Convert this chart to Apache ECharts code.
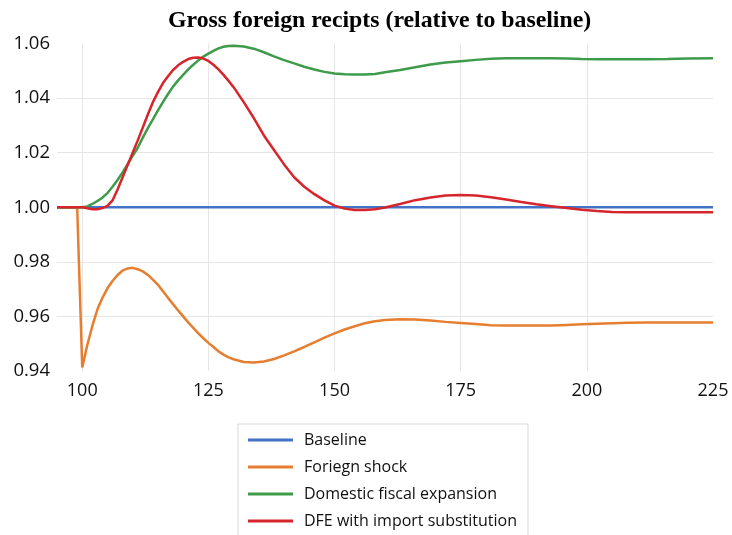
<!DOCTYPE html>
<html>
<head>
<meta charset="utf-8">
<script src="https://cdn.jsdelivr.net/npm/echarts@6/dist/echarts.min.js"></script>
<style>
html,body{margin:0;padding:0;background:#fff;}
#chart{width:732px;height:535px;}
</style>
</head>
<body>
<div id="chart"></div>
<script>
var titleText = 'Gross foreign recipts (relative to baseline)';
var seriesNames = ['Baseline', 'Foriegn shock', 'Domestic fiscal expansion', 'DFE with import substitution'];
var xTicks = [100, 125, 150, 175, 200, 225];
var yTicks = [0.94, 0.96, 0.98, 1.00, 1.02, 1.04, 1.06];

var xs = [95,96,97,98,99,100,101,102,103,104,105,106,107,108,109,110,111,112,113,114,115,116,117,118,119,120,121,122,123,124,125,126,127,128,129,130,
  132,134,136,138,140,142,144,146,148,150,152,154,156,158,160,
  163,166,169,172,175,178,181,184,187,190,193,196,199,202,205,208,
  212,216,220,225];

var baselineX = [95, 225];
var baselineY = [1.0, 1.0];

var foreignShock = [1,1,1,1,1,
  0.9413,0.9495,0.9565,0.9625,0.9668,0.9703,0.9730,0.9752,0.9768,0.9776,0.9778,
  0.9773,0.9765,0.9752,0.9735,0.9716,0.9692,0.9668,0.9645,0.9622,0.9600,
  0.9578,0.9558,0.9538,0.9520,0.9503,0.9488,0.9472,0.9460,0.9450,0.9443,
  0.9433,0.9431,0.9435,0.9444,0.9457,0.9472,0.9488,0.9505,0.9522,0.9538,0.9552,0.9564,0.9575,0.9582,0.9587,
  0.9590,0.9589,0.9585,0.9580,0.9576,0.9572,0.9568,0.9567,0.9567,0.9567,0.9567,0.9569,0.9571,0.9573,0.9575,0.9577,
  0.9578,0.9578,0.9578,0.9578];

var fiscalExpansion = [1,1,1,1,1,
  1.0000,1.0003,1.0012,1.0023,1.0035,1.0052,1.0075,1.0100,1.0128,1.0158,1.0188,
  1.0218,1.0255,1.0290,1.0322,1.0355,1.0385,1.0415,1.0442,1.0465,1.0485,
  1.0505,1.0522,1.0538,1.0552,1.0563,1.0573,1.0582,1.0588,1.0591,1.0592,
  1.0589,1.0581,1.0568,1.0553,1.0539,1.0527,1.0515,1.0505,1.0496,1.0490,1.0487,1.0486,1.0486,1.0488,1.0495,
  1.0503,1.0513,1.0523,1.0530,1.0535,1.0540,1.0544,1.0546,1.0546,1.0546,1.0546,1.0545,1.0543,1.0542,1.0542,1.0542,
  1.0542,1.0543,1.0545,1.0546];

var dfeImportSub = [1,1,1,1,1,
  1.0000,0.9996,0.9993,0.9993,0.9997,1.0005,1.0025,1.0065,1.0110,1.0155,1.0200,
  1.0245,1.0292,1.0340,1.0385,1.0422,1.0455,1.0480,1.0503,1.0520,1.0533,
  1.0543,1.0548,1.0549,1.0545,1.0536,1.0522,1.0505,1.0485,1.0463,1.0440,
  1.0385,1.0327,1.0263,1.0210,1.0157,1.0110,1.0075,1.0048,1.0025,1.0006,0.9995,0.9990,0.9990,0.9993,0.9999,
  1.0012,1.0026,1.0036,1.0043,1.0045,1.0043,1.0037,1.0028,1.0019,1.0011,1.0004,0.9997,0.9991,0.9986,0.9983,0.9982,
  0.9982,0.9982,0.9982,0.9982];

var colors = ['#4472C4', '#E67E30', '#3E9B4A', '#D6252B'];

function pairs(xv, yv) { return xv.map(function (x, i) { return [x, yv[i]]; }); }

var chart = echarts.init(document.getElementById('chart'), null, {renderer: 'canvas'});
var labelFont = 'Open Sans';
function lineSeries(name, data, color) {
  return {
    name: name, type: 'line', data: data, showSymbol: false, symbol: 'none',
    lineStyle: {color: color, width: 2.5}, itemStyle: {color: color},
    emphasis: {disabled: true}, animation: false
  };
}
chart.setOption({
  animation: false,
  title: {
    text: titleText, left: 163, top: 4,
    textStyle: {fontFamily: 'Liberation Serif', fontWeight: 'bold', fontSize: 23.8, color: '#000'}
  },
  grid: {left: 57, right: 19, top: 43.5, bottom: 164, containLabel: false, outerBoundsMode: 'none'},
  xAxis: {
    type: 'value', min: 95, max: 225,
    axisLine: {show: false},
    axisTick: {show: false, customValues: xTicks},
    axisLabel: {customValues: xTicks, fontFamily: labelFont, fontSize: 18, color: '#111', margin: 11},
    splitLine: {show: true, showMinLine: true, showMaxLine: false, lineStyle: {color: '#e6e6e6', width: 1}}
  },
  yAxis: {
    type: 'value', min: yTicks[0], max: yTicks[yTicks.length - 1], interval: 0.02,
    axisLine: {show: false}, axisTick: {show: false},
    axisLabel: {fontFamily: labelFont, fontSize: 18.5, color: '#111', margin: 7,
      formatter: function (v) { return v.toFixed(2); }},
    splitLine: {show: true, showMinLine: false, showMaxLine: false, lineStyle: {color: '#e6e6e6', width: 1}}
  },
  legend: {
    orient: 'vertical', left: 238, top: 424, height: 300,
    data: seriesNames,
    icon: 'rect', itemWidth: 45, itemHeight: 3, itemGap: 11,
    padding: [8, 11, 20, 10],
    borderColor: '#d9d9d9', borderWidth: 1,
    textStyle: {fontFamily: labelFont, fontSize: 16, color: '#111', lineHeight: 16, padding: [0, 0, 0, 6]}
  },
  series: [
    lineSeries(seriesNames[0], pairs(baselineX, baselineY), colors[0]),
    lineSeries(seriesNames[1], pairs(xs, foreignShock), colors[1]),
    lineSeries(seriesNames[2], pairs(xs, fiscalExpansion), colors[2]),
    lineSeries(seriesNames[3], pairs(xs, dfeImportSub), colors[3])
  ]
});
</script>
</body>
</html>
